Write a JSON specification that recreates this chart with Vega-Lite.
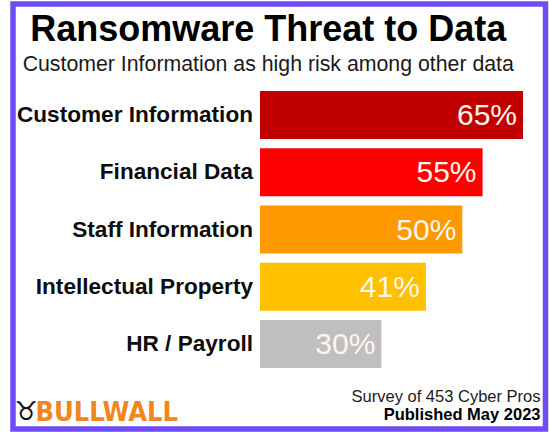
{
  "$schema": "https://vega.github.io/schema/vega-lite/v6.json",
  "width": 549,
  "height": 432,
  "autosize": {"type": "fit", "contains": "padding"},
  "padding": {"left": 13, "top": 4, "right": 3.5, "bottom": 3},
  "background": "white",
  "title": {
    "text": "Ransomware Threat to Data",
    "subtitle": "Customer Information as high risk among other data",
    "anchor": "middle",
    "frame": "group",
    "offset": -72,
    "dx": -11,
    "font": "Liberation Sans",
    "fontSize": 36,
    "fontWeight": "bold",
    "color": "#000000",
    "subtitleFont": "Liberation Sans",
    "subtitleFontSize": 21.3,
    "subtitleColor": "#1a1a1a",
    "subtitlePadding": 5
  },
  "data": {
    "values": [
      {"category": "Customer Information", "share": 0.65},
      {"category": "Financial Data", "share": 0.55},
      {"category": "Staff Information", "share": 0.50},
      {"category": "Intellectual Property", "share": 0.41},
      {"category": "HR / Payroll", "share": 0.30}
    ]
  },
  "layer": [
    {
      "mark": {"type": "bar"},
      "encoding": {
        "y": {
          "field": "category",
          "type": "nominal",
          "sort": null,
          "scale": {
            "domain": ["Customer Information", "Financial Data", "Staff Information", "Intellectual Property", "HR / Payroll"],
            "range": [87, 364],
            "paddingInner": 0.16,
            "paddingOuter": 0
          },
          "axis": {
            "orient": "left",
            "labels": false,
            "ticks": false,
            "domain": false,
            "grid": false,
            "title": "BULLWALL",
            "titleAngle": 0,
            "titleAlign": "left",
            "titleBaseline": "alphabetic",
            "titleX": 22,
            "titleY": 416,
            "titleFont": "DejaVu Sans Condensed",
            "titleFontSize": 27,
            "titleFontWeight": "bold",
            "titleColor": "#F2861E"
          }
        },
        "x": {
          "field": "share",
          "type": "quantitative",
          "scale": {"domain": [0, 0.65], "range": [247, 510], "nice": false, "zero": true},
          "axis": {
            "orient": "bottom",
            "labels": false,
            "ticks": false,
            "domain": false,
            "grid": false,
            "title": "Survey of 453 Cyber Pros",
            "titleAlign": "right",
            "titleAnchor": null,
            "titleBaseline": "alphabetic",
            "titleX": 527,
            "titleY": -28,
            "titleFont": "Liberation Sans",
            "titleFontSize": 16.5,
            "titleFontWeight": "normal",
            "titleColor": "#1a1a1a"
          }
        },
        "color": {
          "field": "category",
          "type": "nominal",
          "scale": {
            "domain": ["Customer Information", "Financial Data", "Staff Information", "Intellectual Property", "HR / Payroll"],
            "range": ["#C00000", "#FF0000", "#FF9900", "#FFC000", "#BFBFBF"]
          },
          "legend": null
        }
      }
    },
    {
      "mark": {
        "type": "text",
        "align": "right",
        "baseline": "middle",
        "dx": -7,
        "font": "Liberation Sans",
        "fontSize": 22.6,
        "fontWeight": "bold",
        "color": "#0d0d0d"
      },
      "encoding": {
        "y": {
          "field": "category",
          "type": "nominal",
          "sort": null,
          "axis": {
            "orient": "right",
            "labels": false,
            "ticks": false,
            "domain": false,
            "grid": false,
            "title": "Published May 2023",
            "titleAngle": 0,
            "titleAlign": "right",
            "titleBaseline": "alphabetic",
            "titleX": -5.5,
            "titleY": 415.5,
            "titleFont": "Liberation Sans",
            "titleFontSize": 16.5,
            "titleFontWeight": "bold",
            "titleColor": "#000000"
          }
        },
        "x": {
          "datum": 0,
          "type": "quantitative",
          "axis": {
            "orient": "top",
            "labels": false,
            "ticks": false,
            "domain": false,
            "grid": false,
            "title": "♉",
            "titleAlign": "left",
            "titleBaseline": "alphabetic",
            "titleX": 1,
            "titleY": 415,
            "titleFont": "DejaVu Sans",
            "titleFontSize": 26,
            "titleFontWeight": "bold",
            "titleColor": "#111111"
          }
        },
        "text": {"field": "category", "type": "nominal"}
      }
    },
    {
      "mark": {
        "type": "text",
        "align": "right",
        "baseline": "middle",
        "dx": -6,
        "dy": 1,
        "font": "Liberation Sans",
        "fontSize": 30,
        "color": "#FFF5EA"
      },
      "encoding": {
        "y": {"field": "category", "type": "nominal", "sort": null, "axis": null},
        "x": {"field": "share", "type": "quantitative", "axis": null},
        "text": {"field": "share", "type": "quantitative", "format": ".0%"}
      }
    }
  ],
  "resolve": {"axis": {"x": "independent", "y": "independent"}},
  "config": {
    "view": {"stroke": "#6F4CF6", "strokeWidth": 5.5, "fill": "white"}
  }
}
